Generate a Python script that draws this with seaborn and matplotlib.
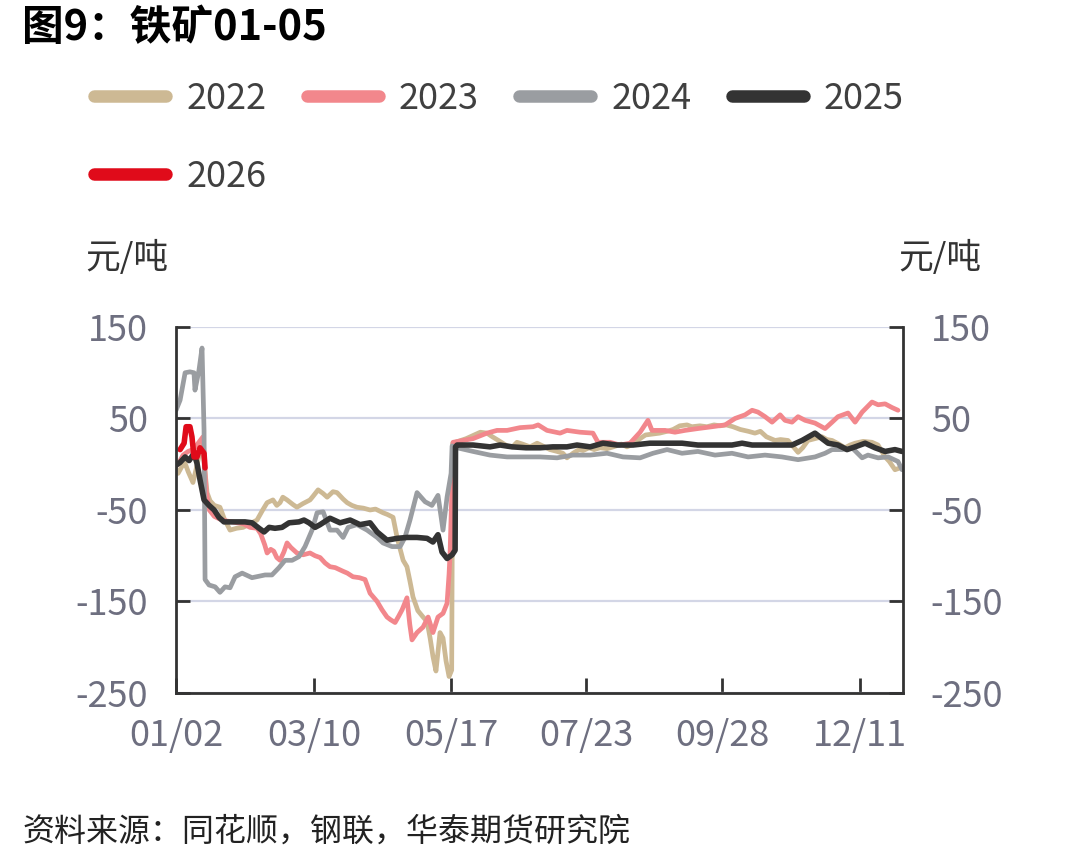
import matplotlib
matplotlib.use("Agg")
import matplotlib.pyplot as plt
from matplotlib.lines import Line2D
import seaborn as sns
import pandas as pd

sns.set_style("white")
plt.rcParams['font.family'] = ['Noto Sans CJK SC', 'DejaVu Sans']

# ---------------- data (x = day index from 01/02, y = spread 元/吨) ----------------
days_2022 = [0, 1, 3, 4.5, 6, 8.4, 10, 11.5, 12.9, 14.5, 15.4, 16.9, 19, 21.8, 24, 26.8, 30, 33.3,
             36.7, 40.2, 43, 45.2, 48.1, 50, 51.6, 53, 55.1, 58, 60, 63, 66.5, 68, 70.5, 73, 75, 77.9,
             79.9, 82.9, 84.9, 87.3, 89.8, 93, 96.3, 99, 102.7, 105, 107.7, 109.7, 112.7, 114.6,
             116.1, 117.6, 120, 122.6, 124.6, 126.1, 127.5, 129, 130, 131, 132.5, 134, 135.5, 136.8,
             137.3, 140, 144, 148, 151, 154.3, 157, 160, 164.3, 167, 169.2, 172, 175.7, 179.2, 182,
             185.6, 189.1, 192, 194, 197, 200, 202, 205, 207.5, 210.4, 213.9, 217, 221, 223.8, 227,
             230.3, 233, 236.7, 240, 243.7, 246.7, 250, 253.6, 256, 260, 263.5, 267, 270, 273, 276.4,
             280, 284, 287.3, 290, 293, 297.3, 300, 303.7, 306, 308.7, 311, 313.6, 317, 320.6, 323,
             325.6, 329, 332, 334.5, 337, 341, 345.4, 348.4, 351.9, 354, 356.8, 359.3]
vals_2022 = [-6, -10, -2, 1, -8, -20, -5, 10, 26, -10, -31, -40, -45, -47, -60, -72, -70, -69,
             -65, -61, -50, -42, -39, -45, -42, -36, -39, -44, -47, -43, -39, -35, -28, -32, -36, -30,
             -31, -38, -42, -45, -47, -48, -50, -49, -53, -55, -58, -80, -105, -112,
             -128, -145, -160, -167, -172, -190, -210, -226, -205, -184, -190, -215, -232, -225,
             23, 25, 28, 32, 35, 34, 30, 26, 20, 19, 24, 22, 19, 23, 20,
             16, 14, 12, 7, 12, 16, 15, 18, 16, 18, 17, 19, 22, 19, 22,
             28, 32, 33, 34, 36, 38, 42, 43, 41, 42, 41, 43, 42, 43, 41,
             38, 36, 34, 36, 30, 26, 27, 26, 20, 13, 18, 26, 28, 30, 27,
             26, 22, 18, 21, 23, 25, 24, 21, 8, 3, -6, -4]

days_2023 = [0, 2, 3.5, 6, 8.4, 10, 12, 13.4, 14, 15, 16.5, 19, 21.8, 25, 28, 30.3, 33.3, 36.7, 40.2,
             42, 44, 45.2, 47, 48.5, 50, 51.6, 53.5, 55.1, 57, 60, 63, 66.5, 69, 71.5, 74, 76.4, 79,
             82.9, 85, 87.8, 91, 93.8, 96.3, 99.8, 102.2, 104.7, 106.5, 108.7, 110.5, 112.2, 114.6,
             116, 117.1, 119.6, 122.6, 125.1, 127.5, 130, 132.5, 134.5, 135.5, 136, 137, 137.5,
             147.4, 154.3, 159.3, 164.3, 170.7, 177.2, 179.7, 184.1, 190.6, 194, 200.5, 206.9, 209.4,
             215.4, 220.3, 225.3, 230.3, 234.2, 236.2, 240.2, 242.7, 247.6, 252.6, 259, 266, 272.5,
             277.4, 282.4, 285.9, 288.8, 292.3, 295.8, 299.8, 302.2, 305.7, 308.7, 312.2, 317.1,
             322.1, 325.6, 328.5, 333.5, 337, 340.5, 345.4, 348.4, 351.9, 355.3, 358.3]
vals_2023 = [-2, 4, 10, 14, 16, 20, 26, 30, 5, -30, -50, -57, -60, -62, -63, -64, -65, -69, -70,
             -76, -88, -97, -93, -95, -102, -105, -96, -86, -91, -97, -99, -97, -100, -102, -108, -112, -113,
             -117, -119, -123, -124, -126, -141, -150, -159, -167, -170, -173, -166, -159, -146,
             -175, -192, -184, -178, -167, -184, -167, -163, -152, -120, -97, -20, 24,
             28, 34, 37, 37, 40, 41, 43, 37, 34, 37, 35, 34, 24,
             24, 21, 23, 35, 48, 37, 37, 37, 35, 37, 39, 41, 43,
             50, 54, 59, 57, 52, 46, 54, 48, 46, 52, 48, 45,
             39, 46, 52, 56, 46, 57, 68, 65, 66, 62, 59]

days_2024 = [0, 2, 4.5, 6.9, 8.9, 9.4, 11.4, 12.9, 13.9, 14.4, 16.4, 19.4, 21.8, 24.3, 26.8, 29.3,
             32.8, 37.7, 44.2, 47.6, 51.1, 54.1, 57.6, 61, 64, 67.5, 70, 73, 76.4, 79.9, 82.9, 85.4,
             89.8, 94.8, 99.8, 102.7, 107.2, 111.2, 113.6, 116.1, 119.6, 123.6, 127, 130, 132.5,
             134.5, 136.5, 137, 139.5, 147.4, 155.8, 164.3, 172.2, 180.6, 189.1, 197, 205.5, 213.9,
             221.8, 230.3, 236.7, 243.7, 251.1, 259, 267.5, 275.9, 283.9, 292.3, 300.7, 308.7, 317.1,
             322.1, 325.6, 330.5, 335.5, 340.5, 343.4, 348.4, 353.4, 358.3, 360.3]
vals_2024 = [59, 70, 100, 101, 100, 81, 103, 127, 37, -126, -132, -134, -140, -134, -135, -123,
             -119, -124, -121, -121, -113, -105, -105, -101, -90, -72, -53, -52, -72, -72, -80, -69,
             -66, -72, -80, -86, -90, -90, -80, -61, -31, -41, -45, -34, -72,
             -36, -10, 20, 18, 14, 10, 8, 8, 8, 7, 10, 10, 12,
             8, 7, 12, 16, 12, 14, 10, 12, 8, 10, 8, 5, 8,
             12, 16, 16, 18, 7, 10, 7, 8, 3, -6]

days_2025 = [0, 2, 4.5, 6.5, 8.9, 10.4, 11.9, 13.9, 16.4, 18.9, 21.3, 23.8, 27.8, 34.2, 37.7, 41.2,
             43.7, 46.2, 49.1, 52.6, 56.1, 61, 63.5, 66, 69, 71.5, 76.4, 81.4, 86.4, 91.3, 96.3, 99.8,
             104.7, 109.7, 114.6, 119.6, 124.6, 127.5, 130, 132, 134.5, 137, 138.5, 138.7, 139.5,
             147.4, 155.8, 160.8, 166.8, 173.7, 180.6, 187, 194, 199, 205.5, 211.9, 218.8, 226.8,
             235.2, 241.7, 242.7, 251.1, 259, 267.5, 275.9, 280.9, 285.9, 292.3, 300.7, 305.7, 310.7,
             317.1, 320.6, 323.6, 328.5, 333, 337, 342, 346.9, 351.9, 356.8, 360.3]
vals_2025 = [-1, 2, 8, 4, 12, 1, -17, -39, -45, -50, -58, -63, -63, -63, -64, -70,
             -74, -69, -70, -69, -64, -63, -61, -64, -69, -66, -59, -64, -61, -66, -64, -74,
             -83, -81, -80, -80, -81, -85, -77, -96, -103, -99, -94, 19, 21,
             21, 19, 21, 19, 18, 18, 19, 19, 21, 19, 23, 21, 21,
             23, 23, 23, 23, 21, 21, 21, 23, 21, 21, 21, 21, 26,
             34, 28, 23, 21, 16, 19, 23, 18, 14, 16, 14]

days_2026 = [2, 4, 5, 6.9, 7.9, 8.9, 10.4, 11.9, 13.9, 14.4]
vals_2026 = [16, 23, 41, 41, 30, 8, 8, 18, 12, -4]

years = ["2022", "2023", "2024", "2025", "2026"]
colors = ["#cdb994", "#f2878c", "#9a9da1", "#333333", "#e00b1a"]
widths = [3.4, 3.4, 3.4, 4.0, 4.0]
x_tick_pos = [0, 68.5, 136.5, 203.5, 271, 339.5]
x_tick_labels = ["01/02", "03/10", "05/17", "07/23", "09/28", "12/11"]
y_ticks = [-250, -150, -50, 50, 150]

series = {"2022": (days_2022, vals_2022), "2023": (days_2023, vals_2023),
          "2024": (days_2024, vals_2024), "2025": (days_2025, vals_2025),
          "2026": (days_2026, vals_2026)}
frames = []
for yr in years:
    d, v = series[yr]
    frames.append(pd.DataFrame({"day": d, "value": v, "year": yr}))
df = pd.concat(frames, ignore_index=True)

# ---------------- figure ----------------
fig = plt.figure(figsize=(10.78, 8.66), dpi=100)
ax = fig.add_axes([0.1633, 0.1998, 0.6744, 0.4226])

sns.lineplot(data=df, x="day", y="value", hue="year", hue_order=years,
             palette=dict(zip(years, colors)), sort=False, estimator=None,
             legend=False, ax=ax)
for line, lw in zip(ax.lines, widths):
    line.set_linewidth(lw)
    line.set_solid_joinstyle("round")

ax.set_xlim(0, 360.8)
ax.set_ylim(-250, 150)
ax.set_xlabel("")
ax.set_ylabel("")
ax.set_yticks(y_ticks)
ax.set_yticklabels([str(t) for t in y_ticks])
ax.set_xticks(x_tick_pos)
ax.set_xticklabels(x_tick_labels)

ax.grid(axis="y", color="#d3d6e6", linewidth=1.6)
ax.grid(axis="x", visible=False)
ax.set_axisbelow(True)

for side in ["left", "bottom", "right"]:
    ax.spines[side].set_visible(True)
    ax.spines[side].set_color("#333333")
    ax.spines[side].set_linewidth(2.0)
ax.spines["top"].set_visible(False)

ax.tick_params(axis="y", which="both", left=True, right=True, labelleft=True, labelright=True,
               direction="in", length=10, width=2, color="#333333", pad=20,
               labelsize=26, labelcolor="#6e6f80")
ax.tick_params(axis="x", bottom=True, direction="in", length=11, width=2, color="#333333",
               pad=18, labelsize=26, labelcolor="#6e6f80")

# unit labels
fig.text(85 / 1078, 1 - 258 / 866, "元/吨", fontsize=25, color="#333333", va="center", ha="left")
fig.text(898 / 1078, 1 - 258 / 866, "元/吨", fontsize=25, color="#333333", va="center", ha="left")

# title
fig.text(22 / 1078, 1 - 28 / 866, "图9：铁矿01-05", fontsize=30, fontweight="bold",
         color="black", va="center", ha="left")

# legend (ordered so that matplotlib's column filling gives row-wise 2022..2025 / 2026)
order = ["2022", "2026", "2023", "2024", "2025"]
cmap = dict(zip(years, colors))
handles = [Line2D([0], [0], color=cmap[y], linewidth=9, solid_capstyle="round") for y in order]
fig.legend(handles, order, loc="upper left", bbox_to_anchor=(94 / 1078, 1 - 81 / 866),
           ncol=4, frameon=False, fontsize=26, handlelength=2.0, handletextpad=0.55,
           columnspacing=1.12, labelspacing=1.15, borderpad=0, borderaxespad=0,
           labelcolor="#404040")

# source
fig.text(22 / 1078, 1 - 832 / 866, "资料来源：同花顺，钢联，华泰期货研究院", fontsize=23,
         color="#222222", va="center", ha="left")

fig.savefig("out.png", dpi=100)
